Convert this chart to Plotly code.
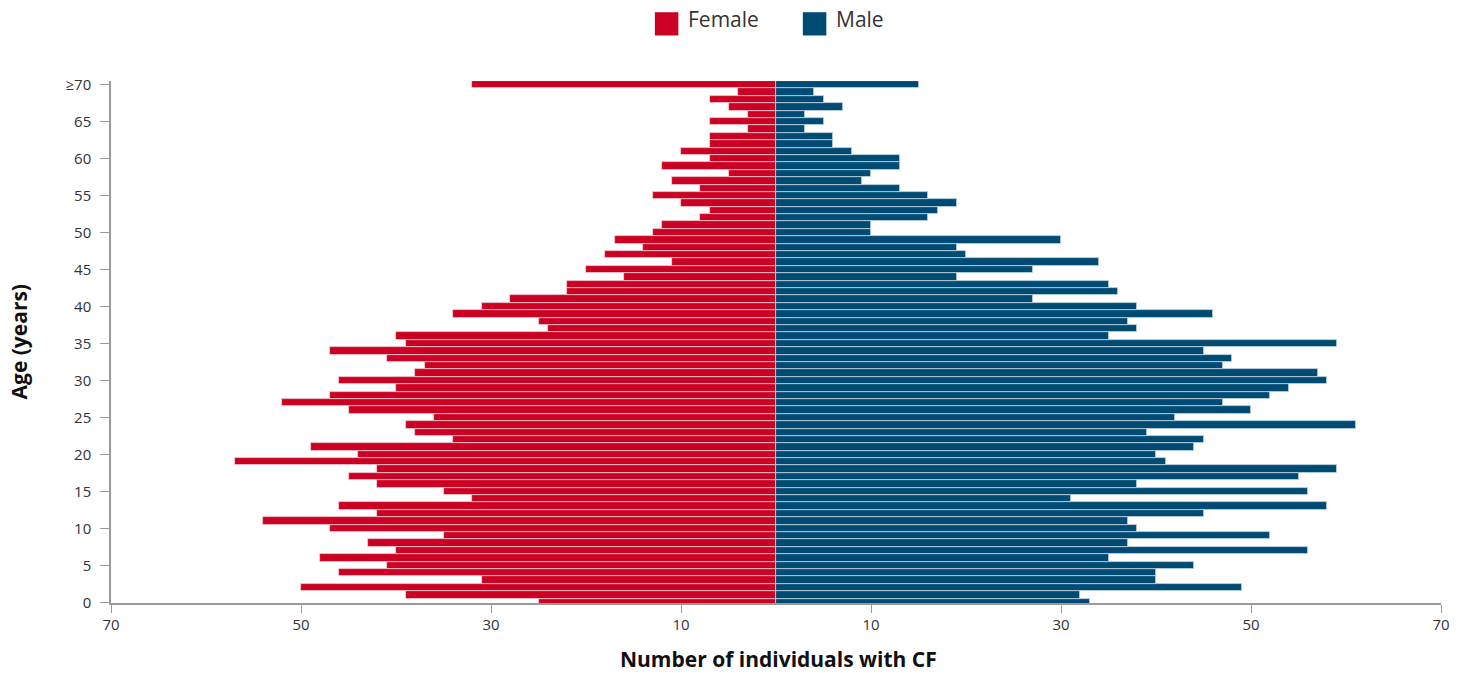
import plotly.graph_objects as go

# Ages 0 .. 70 (70 means "≥70")
ages = list(range(0, 71))

# Values listed from age 70 (≥70) down to age 0
female_top_down = [32, 4, 7, 5, 3, 7, 3, 7, 7, 10,
                   7, 12, 5, 11, 8, 13, 10, 7, 8, 12,
                   13, 17, 14, 18, 11, 20, 16, 22, 22, 28,
                   31, 34, 25, 24, 40, 39, 47, 41, 37, 38,
                   46, 40, 47, 52, 45, 36, 39, 38, 34, 49,
                   44, 57, 42, 45, 42, 35, 32, 46, 42, 54,
                   47, 35, 43, 40, 48, 41, 46, 31, 50, 39,
                   25]
male_top_down = [15, 4, 5, 7, 3, 5, 3, 6, 6, 8,
                 13, 13, 10, 9, 13, 16, 19, 17, 16, 10,
                 10, 30, 19, 20, 34, 27, 19, 35, 36, 27,
                 38, 46, 37, 38, 35, 59, 45, 48, 47, 57,
                 58, 54, 52, 47, 50, 42, 61, 39, 45, 44,
                 40, 41, 59, 55, 38, 56, 31, 58, 45, 37,
                 38, 52, 37, 56, 35, 44, 40, 40, 49, 32,
                 33]

female = female_top_down[::-1]
male = male_top_down[::-1]

y_tick_vals = list(range(0, 71, 5))
y_tick_text = [str(v) for v in range(0, 70, 5)] + ["≥70"]
x_tick_vals = [-70, -50, -30, -10, 10, 30, 50, 70]
x_tick_text = ["70", "50", "30", "10", "10", "30", "50", "70"]

RED = "#cc0022"
BLUE = "#004b73"
FONT = "Open Sans"

W, H = 1461, 673
# target plot area in page pixels
X0, X1 = 111, 1441.3
Y0, Y1 = 80.6, 603.5
L, R, T, B = X0, W - X1, Y0, H - Y1
pw, ph = X1 - X0, Y1 - Y0


def px(x):
    return (x - X0) / pw


def py(y):
    return (Y1 - y) / ph


fig = go.Figure()
fig.add_trace(go.Bar(
    y=ages, x=[-v for v in female], orientation="h", name="Female",
    marker=dict(color=RED, line=dict(color="rgba(235,215,220,0.9)", width=0.8)),
    customdata=female, hovertemplate="Age %{y}: %{customdata}<extra>Female</extra>",
))
fig.add_trace(go.Bar(
    y=ages, x=male, orientation="h", name="Male",
    marker=dict(color=BLUE, line=dict(color="rgba(205,220,232,0.9)", width=0.8)),
    hovertemplate="Age %{y}: %{x}<extra>Male</extra>",
))

# Manual legend (large square swatches)
shapes = []
annotations = []
for (x0, label, color) in [(655, "Female", RED), (803, "Male", BLUE)]:
    shapes.append(dict(type="rect", xref="paper", yref="paper",
                       x0=px(x0), x1=px(x0 + 23.5), y0=py(35), y1=py(11.7),
                       fillcolor=color, line=dict(width=0)))
    annotations.append(dict(xref="paper", yref="paper", x=px(x0 + 31), y=py(18.5),
                            text=label, showarrow=False, xanchor="left", yanchor="middle",
                            font=dict(family=FONT, size=21, color="#333333")))

# Axis titles
annotations.append(dict(xref="paper", yref="paper", x=px(779), y=py(660),
                        text="<b>Number of individuals with CF</b>", showarrow=False,
                        xanchor="center", yanchor="middle",
                        font=dict(family=FONT, size=21, color="#111111")))
annotations.append(dict(xref="paper", yref="paper", x=px(18.5), y=py(342),
                        text="<b>Age (years)</b>", showarrow=False, textangle=-90,
                        xanchor="center", yanchor="middle",
                        font=dict(family=FONT, size=21, color="#111111")))

fig.update_layout(
    width=W, height=H,
    margin=dict(l=L, r=R, t=T, b=B, autoexpand=False),
    paper_bgcolor="white", plot_bgcolor="white",
    barmode="relative", bargap=0,
    showlegend=False,
    shapes=shapes, annotations=annotations,
    font=dict(family=FONT, size=15, color="#333333"),
    xaxis=dict(range=[-70, 70], tickvals=x_tick_vals, ticktext=x_tick_text,
               showgrid=False, zeroline=False, showline=True, linecolor="#9a9a9a",
               linewidth=1.5, ticks="outside", ticklen=8, tickcolor="#9a9a9a",
               tickwidth=1, ticklabelstandoff=-1,
               tickfont=dict(family=FONT, size=15, color="#333333")),
    yaxis=dict(range=[-0.1, 70.5], tickvals=y_tick_vals, ticktext=y_tick_text,
               showgrid=False, zeroline=False, showline=True, linecolor="#9a9a9a",
               linewidth=1.5, ticks="outside", ticklen=9, tickcolor="#9a9a9a",
               tickwidth=1, ticklabelstandoff=6,
               tickfont=dict(family=FONT, size=15, color="#333333")),
)

# remove the default 8px page margin so the figure fills the window exactly
fig.write_html("out.html", config={"displayModeBar": False},
               post_script="document.body.style.margin='0';")
